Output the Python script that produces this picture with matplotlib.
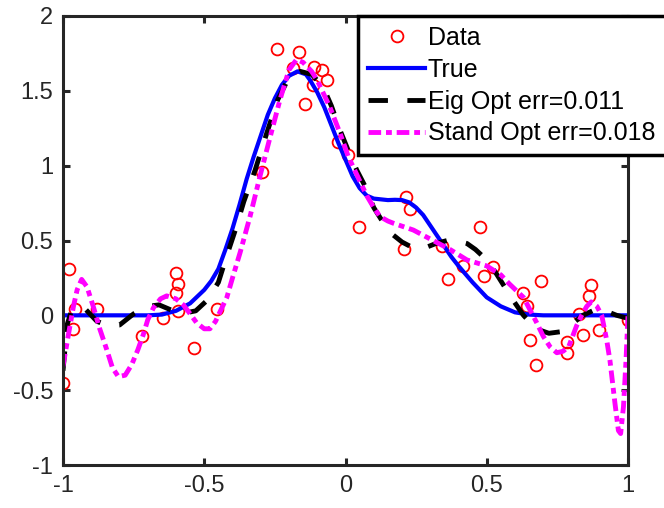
import matplotlib.pyplot as plt

plt.rcParams['font.family'] = ['Liberation Sans', 'DejaVu Sans']

# noisy samples
data_x = [-1.0, -0.979, -0.966, -0.958, -0.88, -0.72, -0.646, -0.60, -0.594, -0.60,
          -0.594, -0.456, -0.536, -0.295, -0.241, -0.164, -0.185, -0.11, -0.084, -0.067,
          -0.114, -0.142, -0.025, 0.008, 0.214, 0.228, 0.049, 0.476, 0.207, 0.34,
          0.417, 0.523, 0.49, 0.362, 0.627, 0.641, 0.653, 0.674, 0.691, 0.785,
          0.783, 0.842, 0.828, 0.869, 0.863, 0.898, 1.0]
data_y = [-0.45, 0.31, -0.09, 0.04, 0.04, -0.14, -0.02, 0.285, 0.21, 0.15,
          0.03, 0.04, -0.22, 0.96, 1.78, 1.76, 1.65, 1.66, 1.64, 1.57,
          1.54, 1.41, 1.16, 1.07, 0.79, 0.71, 0.59, 0.59, 0.44, 0.46,
          0.33, 0.32, 0.26, 0.24, 0.15, 0.06, -0.165, -0.33, 0.23, -0.18,
          -0.25, -0.13, 0.007, 0.20, 0.13, -0.10, -0.03]

# true function
true_x = [-1.0, -0.8, -0.7, -0.65, -0.6, -0.55, -0.5, -0.475, -0.45, -0.425,
          -0.4, -0.375, -0.35, -0.325, -0.3, -0.275, -0.25, -0.225, -0.2, -0.17,
          -0.14, -0.125, -0.1, -0.075, -0.05, -0.025, 0.0, 0.025, 0.05, 0.075,
          0.1, 0.125, 0.15, 0.175, 0.2, 0.225, 0.25, 0.275, 0.3, 0.325,
          0.35, 0.375, 0.4, 0.45, 0.5, 0.55, 0.6, 0.65, 0.7, 1.0]
true_y = [0.0, 0.0, 0.0, 0.005, 0.03, 0.08, 0.17, 0.23, 0.31, 0.44,
          0.58, 0.74, 0.91, 1.06, 1.20, 1.34, 1.45, 1.54, 1.60, 1.63,
          1.61, 1.57, 1.49, 1.39, 1.27, 1.15, 1.04, 0.93, 0.85, 0.80,
          0.78, 0.775, 0.77, 0.772, 0.77, 0.755, 0.72, 0.67, 0.60, 0.53,
          0.46, 0.39, 0.33, 0.22, 0.12, 0.06, 0.02, 0.005, 0.0, 0.0]

# eigen-optimised fit
eig_x = [-1.0, -0.985, -0.97, -0.95, -0.92, -0.88, -0.84, -0.80, -0.75, -0.70,
         -0.66, -0.61, -0.57, -0.53, -0.49, -0.45, -0.42, -0.39, -0.36, -0.32,
         -0.28, -0.24, -0.2, -0.16, -0.12, -0.08, -0.05, -0.02, 0.01, 0.04,
         0.07, 0.10, 0.13, 0.16, 0.20, 0.24, 0.28, 0.32, 0.36, 0.39,
         0.43, 0.46, 0.50, 0.53, 0.56, 0.59, 0.63, 0.66, 0.69, 0.72,
         0.76, 0.80, 0.84, 0.88, 0.92, 0.96, 1.0]
eig_y = [-0.37, -0.06, 0.03, 0.06, 0.04, -0.04, -0.07, -0.065, 0.01, 0.06,
         0.07, 0.03, 0.015, 0.03, 0.10, 0.22, 0.40, 0.57, 0.76, 0.97,
         1.21, 1.44, 1.59, 1.63, 1.61, 1.53, 1.40, 1.24, 1.10, 0.97,
         0.86, 0.72, 0.63, 0.55, 0.49, 0.45, 0.45, 0.48, 0.50, 0.50,
         0.48, 0.44, 0.37, 0.29, 0.20, 0.11, 0.0, -0.06, -0.10, -0.12,
         -0.11, -0.06, 0.0, 0.035, 0.03, 0.0, -0.02]

# standard-optimised fit
std_x = [-1.0, -0.98, -0.963, -0.95, -0.934, -0.915, -0.893, -0.87, -0.845, -0.825,
         -0.804, -0.78, -0.757, -0.735, -0.716, -0.70, -0.68, -0.655, -0.633, -0.60,
         -0.574, -0.55, -0.527, -0.50, -0.48, -0.46, -0.44, -0.42, -0.40, -0.373,
         -0.338, -0.30, -0.267, -0.232, -0.20, -0.173, -0.15, -0.12, -0.10, -0.055,
         -0.02, 0.01, 0.04, 0.075, 0.10, 0.122, 0.15, 0.17, 0.24, 0.31,
         0.37, 0.43, 0.50, 0.55, 0.58, 0.63, 0.655, 0.677, 0.70, 0.724,
         0.748, 0.77, 0.79, 0.80, 0.818, 0.836, 0.854, 0.87, 0.89, 0.907,
         0.925, 0.936, 0.954, 0.966, 0.974, 0.984, 0.993, 1.0]
std_y = [-0.34, -0.12, 0.06, 0.17, 0.24, 0.19, 0.06, -0.09, -0.23, -0.35,
         -0.41, -0.40, -0.33, -0.23, -0.13, -0.03, 0.05, 0.11, 0.13, 0.11,
         0.07, 0.01, -0.05, -0.09, -0.09, -0.04, 0.04, 0.12, 0.25, 0.42,
         0.66, 0.95, 1.19, 1.44, 1.64, 1.71, 1.69, 1.63, 1.57, 1.39,
         1.22, 1.06, 0.94, 0.80, 0.72, 0.66, 0.63, 0.615, 0.57, 0.50,
         0.44, 0.37, 0.33, 0.27, 0.21, 0.12, 0.03, -0.05, -0.14, -0.21,
         -0.25, -0.24, -0.21, -0.16, -0.07, 0.0, 0.06, 0.09, 0.06, 0.0,
         -0.17, -0.30, -0.59, -0.77, -0.79, -0.61, -0.30, 0.0]

fig = plt.figure(figsize=(6.64, 5.08), dpi=100)
ax = fig.add_axes([63/664, 43/508, 565/664, 449/508])

ax.plot(data_x, data_y, 'o', color='red', mfc='none', ms=8.5, mew=1.3, label='Data')
ax.plot(true_x, true_y, '-', color='blue', lw=3, label='True')
ax.plot(eig_x, eig_y, color='black', lw=3.5, linestyle=(0, (4, 4)),
        label='Eig Opt err=0.011')
ax.plot(std_x, std_y, color='magenta', lw=3.5, linestyle=(0, (2.6, 1.0, 1.2, 1.0)),
        label='Stand Opt err=0.018')

ax.set_xlim(-1, 1)
ax.set_ylim(-1, 2)
ax.set_xticks([-1, -0.5, 0, 0.5, 1])
ax.set_xticklabels(['-1', '-0.5', '0', '0.5', '1'])
ax.set_yticks([-1, -0.5, 0, 0.5, 1, 1.5, 2])
ax.set_yticklabels(['-1', '-0.5', '0', '0.5', '1', '1.5', '2'])

for sp in ax.spines.values():
    sp.set_linewidth(2.2)
    sp.set_color('#262626')
ax.tick_params(direction='in', length=5, width=2.2, color='#262626',
               labelsize=17, labelcolor='#262626', top=True, right=True, pad=7)

# legend box sticks out past the right spine
leg = ax.legend(loc='upper left', bbox_to_anchor=(358/664, 492/508),
                bbox_transform=fig.transFigure, borderaxespad=0,
                fontsize=18, fancybox=False, framealpha=1, edgecolor='black',
                handlelength=2.28, handletextpad=0.12, labelspacing=0.31,
                borderpad=0.4)
leg.get_frame().set_linewidth(2.5)

fig.savefig('out.png', dpi=100)
